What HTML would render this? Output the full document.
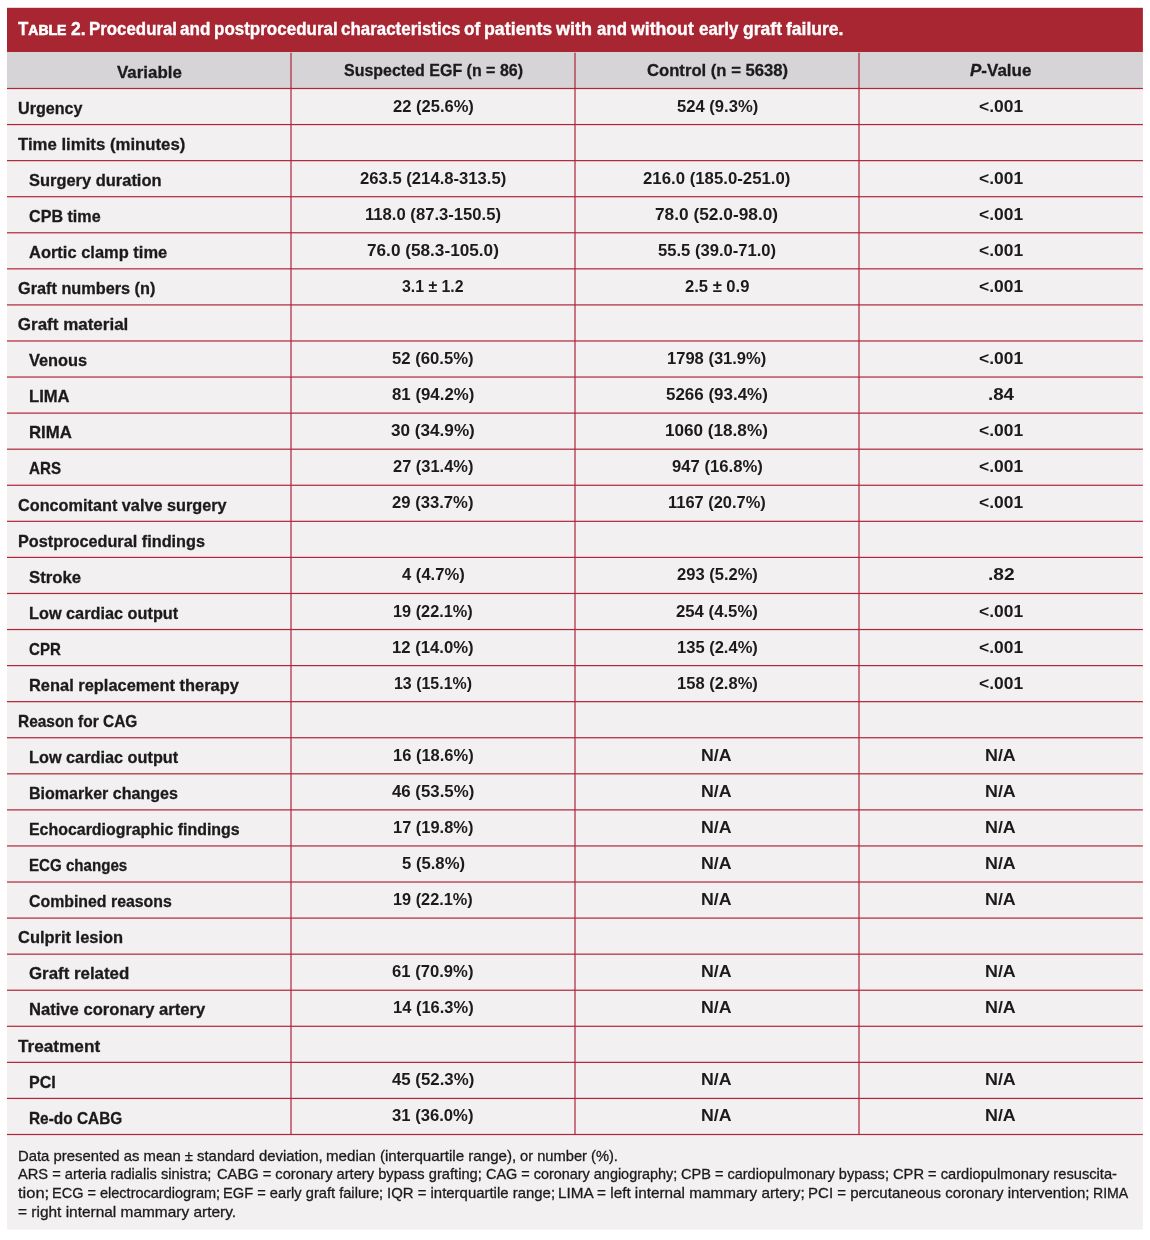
<!DOCTYPE html>
<html><head><meta charset="utf-8"><title>Table 2</title><style>
html,body{margin:0;padding:0;background:#fff;}
body{width:1150px;height:1240px;position:relative;overflow:hidden;font-family:"Liberation Sans",sans-serif;color:#1b1b1b;}
.abs{position:absolute;}
#txt{position:absolute;left:0;top:0;width:1150px;height:1240px;will-change:transform;}
.t{position:absolute;white-space:nowrap;line-height:1;transform-origin:0 50%;}
.b{font-weight:bold;font-size:17px;-webkit-text-stroke:0.3px #1b1b1b;}
.v{font-weight:bold;font-size:17px;}
.tt{font-weight:bold;font-size:17.5px;color:#fff;-webkit-text-stroke:0.35px #fff;}
.sc{font-size:14.525px;-webkit-text-stroke:0.65px #fff;}
.f{font-size:15px;-webkit-text-stroke:0.3px #1b1b1b;}
</style></head><body>
<svg class="abs" style="left:0;top:0" width="1150" height="1240" viewBox="0 0 1150 1240">
<rect x="7" y="87.9" width="1135.9" height="1141.7" fill="#f2f0f1"/>
<rect x="7" y="51.5" width="1135.9" height="36.9" fill="#d6d4d7"/>
<rect x="7" y="7.8" width="1135.9" height="44.2" fill="#a82532"/>
<rect x="290" y="52.7" width="2" height="1081.7" fill="rgb(170,22,42)" fill-opacity="0.56"/>
<rect x="574" y="52.7" width="2" height="1081.7" fill="rgb(170,22,42)" fill-opacity="0.56"/>
<rect x="858" y="52.7" width="2" height="1081.7" fill="rgb(170,22,42)" fill-opacity="0.56"/>
<rect x="7" y="87.90" width="1135.9" height="1.2" fill="#b0253a"/>
<rect x="7" y="123.97" width="1135.9" height="1.2" fill="#b0253a"/>
<rect x="7" y="160.04" width="1135.9" height="1.2" fill="#b0253a"/>
<rect x="7" y="196.11" width="1135.9" height="1.2" fill="#b0253a"/>
<rect x="7" y="232.18" width="1135.9" height="1.2" fill="#b0253a"/>
<rect x="7" y="268.24" width="1135.9" height="1.2" fill="#b0253a"/>
<rect x="7" y="304.31" width="1135.9" height="1.2" fill="#b0253a"/>
<rect x="7" y="340.38" width="1135.9" height="1.2" fill="#b0253a"/>
<rect x="7" y="376.45" width="1135.9" height="1.2" fill="#b0253a"/>
<rect x="7" y="412.52" width="1135.9" height="1.2" fill="#b0253a"/>
<rect x="7" y="448.59" width="1135.9" height="1.2" fill="#b0253a"/>
<rect x="7" y="484.66" width="1135.9" height="1.2" fill="#b0253a"/>
<rect x="7" y="520.73" width="1135.9" height="1.2" fill="#b0253a"/>
<rect x="7" y="556.80" width="1135.9" height="1.2" fill="#b0253a"/>
<rect x="7" y="592.87" width="1135.9" height="1.2" fill="#b0253a"/>
<rect x="7" y="628.93" width="1135.9" height="1.2" fill="#b0253a"/>
<rect x="7" y="665.00" width="1135.9" height="1.2" fill="#b0253a"/>
<rect x="7" y="701.07" width="1135.9" height="1.2" fill="#b0253a"/>
<rect x="7" y="737.14" width="1135.9" height="1.2" fill="#b0253a"/>
<rect x="7" y="773.21" width="1135.9" height="1.2" fill="#b0253a"/>
<rect x="7" y="809.28" width="1135.9" height="1.2" fill="#b0253a"/>
<rect x="7" y="845.35" width="1135.9" height="1.2" fill="#b0253a"/>
<rect x="7" y="881.42" width="1135.9" height="1.2" fill="#b0253a"/>
<rect x="7" y="917.49" width="1135.9" height="1.2" fill="#b0253a"/>
<rect x="7" y="953.56" width="1135.9" height="1.2" fill="#b0253a"/>
<rect x="7" y="989.62" width="1135.9" height="1.2" fill="#b0253a"/>
<rect x="7" y="1025.69" width="1135.9" height="1.2" fill="#b0253a"/>
<rect x="7" y="1061.76" width="1135.9" height="1.2" fill="#b0253a"/>
<rect x="7" y="1097.83" width="1135.9" height="1.2" fill="#b0253a"/>
<rect x="7" y="1133.90" width="1135.9" height="1.2" fill="#b0253a"/>
</svg>
<div id="txt">
<div class="t tt" style="left:18.10px;top:21px;transform:scaleX(0.9620);"><span>T</span><span class="sc">ABLE</span></div>
<div class="t tt" style="left:71.00px;top:21px;">2.</div>
<div class="t tt" style="left:89.24px;top:21px;transform:scaleX(0.9631);">Procedural</div>
<div class="t tt" style="left:180.46px;top:21px;transform:scaleX(0.9767);">and</div>
<div class="t tt" style="left:213.53px;top:21px;transform:scaleX(0.9709);">postprocedural</div>
<div class="t tt" style="left:340.72px;top:21px;transform:scaleX(0.9673);">characteristics</div>
<div class="t tt" style="left:464.01px;top:21px;transform:scaleX(0.9785);">of</div>
<div class="t tt" style="left:483.68px;top:21px;transform:scaleX(1.0168);">patients</div>
<div class="t tt" style="left:556.26px;top:21px;transform:scaleX(1.0307);">with</div>
<div class="t tt" style="left:596.86px;top:21px;transform:scaleX(0.9633);">and</div>
<div class="t tt" style="left:631.35px;top:21px;transform:scaleX(1.0096);">without</div>
<div class="t tt" style="left:698.82px;top:21px;transform:scaleX(0.9654);">early</div>
<div class="t tt" style="left:742.50px;top:21px;transform:scaleX(1.0039);">graft</div>
<div class="t tt" style="left:786.40px;top:21px;transform:scaleX(1.0009);">failure.</div>
<div class="t b" style="left:116.80px;top:64px;transform:scaleX(0.9946);">Variable</div>
<div class="t b" style="left:343.66px;top:62px;transform:scaleX(0.9404);">Suspected EGF (n = 86)</div>
<div class="t b" style="left:646.61px;top:62px;transform:scaleX(0.9793);">Control (n = 5638)</div>
<div class="t b" style="left:970.40px;top:62px;transform:scaleX(0.9992);"><i>P</i>-Value</div>
<div class="t b" style="left:17.80px;top:100px;transform:scaleX(0.9471);">Urgency</div>
<div class="t v" style="left:392.76px;top:98px;transform:scaleX(0.9725);">22 (25.6%)</div>
<div class="t v" style="left:676.61px;top:98px;transform:scaleX(0.9761);">524 (9.3%)</div>
<div class="t v" style="left:979.03px;top:98px;transform:scaleX(1.0251);">&lt;.001</div>
<div class="t b" style="left:17.80px;top:136px;transform:scaleX(0.9858);">Time limits (minutes)</div>
<div class="t b" style="left:28.60px;top:172px;transform:scaleX(0.9676);">Surgery duration</div>
<div class="t v" style="left:360.01px;top:170px;transform:scaleX(0.9797);">263.5 (214.8-313.5)</div>
<div class="t v" style="left:643.46px;top:170px;transform:scaleX(0.9872);">216.0 (185.0-251.0)</div>
<div class="t v" style="left:979.03px;top:170px;transform:scaleX(1.0251);">&lt;.001</div>
<div class="t b" style="left:28.60px;top:208px;transform:scaleX(0.9475);">CPB time</div>
<div class="t v" style="left:364.97px;top:206px;transform:scaleX(0.9788);">118.0 (87.3-150.5)</div>
<div class="t v" style="left:655.44px;top:206px;transform:scaleX(1.0176);">78.0 (52.0-98.0)</div>
<div class="t v" style="left:979.03px;top:206px;transform:scaleX(1.0251);">&lt;.001</div>
<div class="t b" style="left:28.60px;top:244px;transform:scaleX(0.9687);">Aortic clamp time</div>
<div class="t v" style="left:367.14px;top:242px;transform:scaleX(1.0113);">76.0 (58.3-105.0)</div>
<div class="t v" style="left:658.06px;top:242px;transform:scaleX(0.9762);">55.5 (39.0-71.0)</div>
<div class="t v" style="left:979.03px;top:242px;transform:scaleX(1.0251);">&lt;.001</div>
<div class="t b" style="left:17.80px;top:280px;transform:scaleX(0.9569);">Graft numbers (n)</div>
<div class="t v" style="left:402.38px;top:278px;transform:scaleX(0.9313);">3.1 ± 1.2</div>
<div class="t v" style="left:684.81px;top:278px;transform:scaleX(0.9754);">2.5 ± 0.9</div>
<div class="t v" style="left:979.03px;top:278px;transform:scaleX(1.0251);">&lt;.001</div>
<div class="t b" style="left:17.80px;top:316px;">Graft material</div>
<div class="t b" style="left:28.60px;top:352px;transform:scaleX(0.9617);">Venous</div>
<div class="t v" style="left:392.36px;top:350px;transform:scaleX(0.9823);">52 (60.5%)</div>
<div class="t v" style="left:667.28px;top:350px;transform:scaleX(0.9726);">1798 (31.9%)</div>
<div class="t v" style="left:979.03px;top:350px;transform:scaleX(1.0251);">&lt;.001</div>
<div class="t b" style="left:28.60px;top:388px;transform:scaleX(0.9770);">LIMA</div>
<div class="t v" style="left:392.06px;top:386px;transform:scaleX(0.9896);">81 (94.2%)</div>
<div class="t v" style="left:666.25px;top:386px;transform:scaleX(0.9975);">5266 (93.4%)</div>
<div class="t v" style="left:987.57px;top:386px;transform:scaleX(1.1011);">.84</div>
<div class="t b" style="left:28.60px;top:424px;transform:scaleX(0.9850);">RIMA</div>
<div class="t v" style="left:391.30px;top:422px;transform:scaleX(1.0080);">30 (34.9%)</div>
<div class="t v" style="left:665.49px;top:422px;transform:scaleX(1.0075);">1060 (18.8%)</div>
<div class="t v" style="left:979.03px;top:422px;transform:scaleX(1.0251);">&lt;.001</div>
<div class="t b" style="left:28.60px;top:460px;transform:scaleX(0.8930);">ARS</div>
<div class="t v" style="left:393.02px;top:458px;transform:scaleX(0.9664);">27 (31.4%)</div>
<div class="t v" style="left:671.76px;top:458px;transform:scaleX(0.9808);">947 (16.8%)</div>
<div class="t v" style="left:979.03px;top:458px;transform:scaleX(1.0251);">&lt;.001</div>
<div class="t b" style="left:17.80px;top:497px;transform:scaleX(0.9558);">Concomitant valve surgery</div>
<div class="t v" style="left:392.46px;top:494px;transform:scaleX(0.9798);">29 (33.7%)</div>
<div class="t v" style="left:668.03px;top:494px;transform:scaleX(0.9673);">1167 (20.7%)</div>
<div class="t v" style="left:979.03px;top:494px;transform:scaleX(1.0251);">&lt;.001</div>
<div class="t b" style="left:17.80px;top:533px;transform:scaleX(0.9564);">Postprocedural findings</div>
<div class="t b" style="left:28.60px;top:569px;transform:scaleX(0.9848);">Stroke</div>
<div class="t v" style="left:401.86px;top:566px;transform:scaleX(0.9771);">4 (4.7%)</div>
<div class="t v" style="left:676.76px;top:566px;transform:scaleX(0.9725);">293 (5.2%)</div>
<div class="t v" style="left:987.54px;top:566px;transform:scaleX(1.1264);">.82</div>
<div class="t b" style="left:28.60px;top:605px;transform:scaleX(0.9573);">Low cardiac output</div>
<div class="t v" style="left:393.09px;top:603px;transform:scaleX(0.9588);">19 (22.1%)</div>
<div class="t v" style="left:676.26px;top:603px;transform:scaleX(0.9847);">254 (4.5%)</div>
<div class="t v" style="left:979.03px;top:603px;transform:scaleX(1.0251);">&lt;.001</div>
<div class="t b" style="left:28.60px;top:641px;transform:scaleX(0.8867);">CPR</div>
<div class="t v" style="left:392.12px;top:639px;transform:scaleX(0.9822);">12 (14.0%)</div>
<div class="t v" style="left:676.53px;top:639px;transform:scaleX(0.9723);">135 (2.4%)</div>
<div class="t v" style="left:979.03px;top:639px;transform:scaleX(1.0251);">&lt;.001</div>
<div class="t b" style="left:28.60px;top:677px;transform:scaleX(0.9657);">Renal replacement therapy</div>
<div class="t v" style="left:393.96px;top:675px;transform:scaleX(0.9378);">13 (15.1%)</div>
<div class="t v" style="left:676.53px;top:675px;transform:scaleX(0.9723);">158 (2.8%)</div>
<div class="t v" style="left:979.03px;top:675px;transform:scaleX(1.0251);">&lt;.001</div>
<div class="t b" style="left:17.80px;top:713px;transform:scaleX(0.9088);">Reason for CAG</div>
<div class="t b" style="left:28.60px;top:749px;transform:scaleX(0.9573);">Low cardiac output</div>
<div class="t v" style="left:392.63px;top:747px;transform:scaleX(0.9698);">16 (18.6%)</div>
<div class="t v" style="left:701.35px;top:747px;transform:scaleX(1.0436);">N/A</div>
<div class="t v" style="left:985.44px;top:747px;transform:scaleX(1.0509);">N/A</div>
<div class="t b" style="left:28.60px;top:785px;transform:scaleX(0.9431);">Biomarker changes</div>
<div class="t v" style="left:392.20px;top:783px;transform:scaleX(0.9890);">46 (53.5%)</div>
<div class="t v" style="left:701.35px;top:783px;transform:scaleX(1.0436);">N/A</div>
<div class="t v" style="left:985.44px;top:783px;transform:scaleX(1.0509);">N/A</div>
<div class="t b" style="left:28.60px;top:821px;transform:scaleX(0.9369);">Echocardiographic findings</div>
<div class="t v" style="left:392.78px;top:819px;transform:scaleX(0.9662);">17 (19.8%)</div>
<div class="t v" style="left:701.35px;top:819px;transform:scaleX(1.0436);">N/A</div>
<div class="t v" style="left:985.44px;top:819px;transform:scaleX(1.0509);">N/A</div>
<div class="t b" style="left:28.60px;top:857px;transform:scaleX(0.8882);">ECG changes</div>
<div class="t v" style="left:401.61px;top:855px;transform:scaleX(0.9810);">5 (5.8%)</div>
<div class="t v" style="left:701.35px;top:855px;transform:scaleX(1.0436);">N/A</div>
<div class="t v" style="left:985.44px;top:855px;transform:scaleX(1.0509);">N/A</div>
<div class="t b" style="left:28.60px;top:893px;transform:scaleX(0.9331);">Combined reasons</div>
<div class="t v" style="left:393.09px;top:891px;transform:scaleX(0.9588);">19 (22.1%)</div>
<div class="t v" style="left:701.35px;top:891px;transform:scaleX(1.0436);">N/A</div>
<div class="t v" style="left:985.44px;top:891px;transform:scaleX(1.0509);">N/A</div>
<div class="t b" style="left:17.80px;top:929px;transform:scaleX(0.9680);">Culprit lesion</div>
<div class="t b" style="left:28.60px;top:965px;transform:scaleX(0.9920);">Graft related</div>
<div class="t v" style="left:392.46px;top:963px;transform:scaleX(0.9798);">61 (70.9%)</div>
<div class="t v" style="left:701.35px;top:963px;transform:scaleX(1.0436);">N/A</div>
<div class="t v" style="left:985.44px;top:963px;transform:scaleX(1.0509);">N/A</div>
<div class="t b" style="left:28.60px;top:1001px;transform:scaleX(0.9762);">Native coronary artery</div>
<div class="t v" style="left:392.63px;top:999px;transform:scaleX(0.9698);">14 (16.3%)</div>
<div class="t v" style="left:701.35px;top:999px;transform:scaleX(1.0436);">N/A</div>
<div class="t v" style="left:985.44px;top:999px;transform:scaleX(1.0509);">N/A</div>
<div class="t b" style="left:17.80px;top:1038px;transform:scaleX(1.0105);">Treatment</div>
<div class="t b" style="left:28.60px;top:1074px;transform:scaleX(0.9431);">PCI</div>
<div class="t v" style="left:392.20px;top:1071px;transform:scaleX(0.9890);">45 (52.3%)</div>
<div class="t v" style="left:701.35px;top:1071px;transform:scaleX(1.0436);">N/A</div>
<div class="t v" style="left:985.44px;top:1071px;transform:scaleX(1.0509);">N/A</div>
<div class="t b" style="left:28.60px;top:1110px;transform:scaleX(0.9059);">Re-do CABG</div>
<div class="t v" style="left:392.46px;top:1107px;transform:scaleX(0.9798);">31 (36.0%)</div>
<div class="t v" style="left:701.35px;top:1107px;transform:scaleX(1.0436);">N/A</div>
<div class="t v" style="left:985.44px;top:1107px;transform:scaleX(1.0509);">N/A</div>
<div class="t f" style="left:18.01px;top:1148px;transform:scaleX(0.9902);">Data presented as mean ± standard deviation,</div>
<div class="t f" style="left:325.84px;top:1148px;transform:scaleX(1.0097);">median (interquartile range),</div>
<div class="t f" style="left:519.51px;top:1148px;transform:scaleX(0.9791);">or number (%).</div>
<div class="t f" style="left:18.30px;top:1166px;transform:scaleX(0.9769);">ARS = arteria radialis sinistra;</div>
<div class="t f" style="left:216.81px;top:1166px;transform:scaleX(0.9790);">CABG = coronary artery bypass grafting;</div>
<div class="t f" style="left:485.72px;top:1166px;transform:scaleX(0.9617);">CAG = coronary angiography;</div>
<div class="t f" style="left:681.02px;top:1166px;transform:scaleX(0.9685);">CPB = cardiopulmonary bypass;</div>
<div class="t f" style="left:892.91px;top:1166px;transform:scaleX(0.9787);">CPR = cardiopulmonary resuscita-</div>
<div class="t f" style="left:18.40px;top:1185px;transform:scaleX(1.0972);">tion;</div>
<div class="t f" style="left:52.43px;top:1185px;transform:scaleX(0.9673);">ECG = electrocardiogram;</div>
<div class="t f" style="left:223.42px;top:1185px;transform:scaleX(0.9777);">EGF = early graft failure;</div>
<div class="t f" style="left:386.56px;top:1185px;transform:scaleX(0.9952);">IQR = interquartile range;</div>
<div class="t f" style="left:558.28px;top:1185px;transform:scaleX(1.0188);">LIMA = left internal mammary artery;</div>
<div class="t f" style="left:808.10px;top:1185px;">PCI = percutaneous coronary intervention;</div>
<div class="t f" style="left:1093.16px;top:1185px;transform:scaleX(0.9397);">RIMA</div>
<div class="t f" style="left:18.29px;top:1204px;transform:scaleX(1.0293);">= right internal mammary artery.</div>
</div>
</body></html>
